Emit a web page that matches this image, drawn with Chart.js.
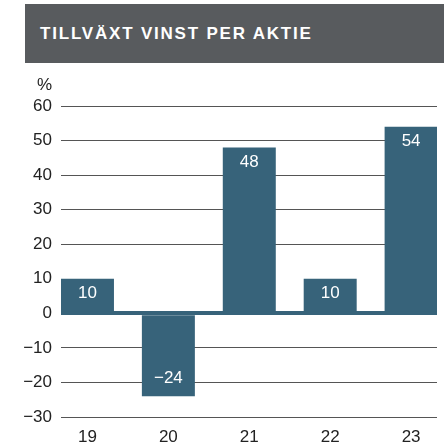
<!DOCTYPE html>
<html>
<head>
<meta charset="utf-8">
<script src="https://cdn.jsdelivr.net/npm/chart.js@4/dist/chart.umd.min.js"></script>
<style>
  html, body { margin: 0; padding: 0; background: #fff; overflow: hidden; }
  body { width: 444px; height: 444px; position: relative; font-family: "Liberation Sans", Arial, sans-serif; }
  .header {
    position: absolute; left: 25px; top: 4px; width: 419px; height: 59px;
    background: #585b5e; color: #fff;
    font-weight: bold; font-size: 17px; letter-spacing: 1.8px;
    line-height: 60px; padding-left: 15px; box-sizing: border-box;
  }
  #wrap { position: absolute; left: 0; top: 0; width: 444px; height: 444px; }
</style>
</head>
<body>
<div class="header">TILLVÄXT VINST PER AKTIE</div>
<div id="wrap"><canvas id="chart"></canvas></div>
<script>
// years (20xx) and growth in earnings per share, %
const categories = ['19', '20', '21', '22', '23'];
const growth = [10, -24, 48, 10, 54];
const yTicks = [60, 50, 40, 30, 20, 10, 0, -10, -20, -30];

const barColor = '#37637a';
const font = 'Liberation Sans, Arial, sans-serif';

// proper minus sign like the printed report
function fmt(v) {
    return v < 0 ? '\u2212' + Math.abs(v) : String(v);
}

// value inside each bar + the "%" unit over the y axis
const barLabels = {
    id: 'barLabels',
    afterDatasetsDraw(chart) {
        const ctx = chart.ctx;
        const meta = chart.getDatasetMeta(0);
        ctx.save();
        ctx.fillStyle = '#ffffff';
        ctx.font = '17px ' + font;
        ctx.textAlign = 'center';
        ctx.textBaseline = 'middle';
        meta.data.forEach(function(bar, i) {
            const v = growth[i];
            const y = v >= 0 ? bar.y + 15 : bar.y - 18;
            ctx.fillText(fmt(v), bar.x, y);
        });
        ctx.fillStyle = '#222222';
        ctx.textAlign = 'right';
        ctx.fillText('%', chart.chartArea.left - 9, chart.chartArea.top - 21);
        ctx.restore();
    }
};

new Chart(document.getElementById('chart'), {
    type: 'bar',
    data: {
        datasets: [{
            data: growth.map(function(v, i) { return { x: i, y: v }; }),
            backgroundColor: barColor,
            borderWidth: 0,
            barPercentage: 0.655,
            categoryPercentage: 1
        }]
    },
    options: {
        responsive: true,
        maintainAspectRatio: false,
        animation: false,
        layout: { padding: { top: 106, right: 7, bottom: 0, left: 0 } },
        plugins: {
            legend: { display: false },
            tooltip: { enabled: false }
        },
        scales: {
            // linear index axis so the first/last bars sit flush with the grid ends
            x: {
                type: 'linear',
                bounds: 'data',
                offset: false,
                min: -0.327,
                max: 4.32,
                afterBuildTicks: function(s) {
                    s.ticks = categories.map(function(c, i) { return { value: i }; });
                },
                afterFit: function(s) { s.height = 27; },
                grid: { display: false },
                border: { display: false },
                ticks: {
                    padding: 2,
                    color: '#222222',
                    font: { family: font, size: 17 },
                    callback: function(v) { return categories[v]; }
                }
            },
            y: {
                min: -30,
                max: 60,
                afterBuildTicks: function(s) {
                    s.ticks = yTicks.map(function(v) { return { value: v }; });
                },
                afterFit: function(s) { s.width = 61; },
                border: { display: false },
                grid: {
                    drawTicks: false,
                    color: function(c) {
                        if (c.tick.value === 0) return barColor;
                        if (c.tick.value === 10) return 'rgba(0,0,0,0)';
                        return '#555555';
                    },
                    lineWidth: function(c) { return c.tick.value === 0 ? 4 : 1; }
                },
                ticks: {
                    padding: 9,
                    color: '#222222',
                    font: { family: font, size: 17 },
                    callback: function(v) { return fmt(v); }
                }
            }
        }
    },
    plugins: [barLabels]
});
</script>
</body>
</html>
